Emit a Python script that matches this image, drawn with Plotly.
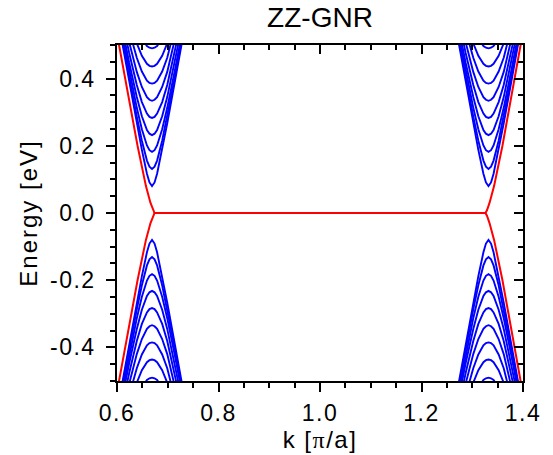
import plotly.graph_objects as go

# ---- data ----
valley_k = [0.669, 1.332]                     # k of subband minima (pi/a)
band_dk = [0.0, 0.005, 0.01, 0.02, 0.03, 0.045, 0.065]   # offsets from valley
# conduction subband energies (eV) at the offsets above
band_E = [
    [0.080, 0.091, 0.117, 0.188, 0.267, 0.391, 0.558],
    [0.131, 0.138, 0.156, 0.215, 0.287, 0.404, 0.568],
    [0.182, 0.187, 0.201, 0.249, 0.313, 0.424, 0.582],
    [0.232, 0.236, 0.247, 0.288, 0.345, 0.447, 0.599],
    [0.283, 0.286, 0.296, 0.330, 0.381, 0.476, 0.621],
    [0.334, 0.337, 0.345, 0.375, 0.420, 0.508, 0.646],
    [0.385, 0.387, 0.394, 0.421, 0.462, 0.543, 0.673],
    [0.436, 0.438, 0.444, 0.468, 0.505, 0.580, 0.704],
    [0.490, 0.492, 0.497, 0.519, 0.552, 0.622, 0.739],
]
# edge-state band (red), upper branch
red_k = [0.594, 0.604, 0.6405, 0.657, 0.666, 0.671, 0.674,
         1.326, 1.329, 1.334, 1.343, 1.3595, 1.396, 1.406]
red_E = [0.590, 0.500, 0.200, 0.080, 0.030, 0.008, 0.000,
         0.000, 0.008, 0.030, 0.080, 0.200, 0.500, 0.590]

x_ticks = [0.6, 0.8, 1.0, 1.2, 1.4]
x_labels = ["0.6", "0.8", "1.0", "1.2", "1.4"]
y_ticks = [-0.4, -0.2, 0.0, 0.2, 0.4]
y_labels = ["-0.4", "-0.2", "0.0", "0.2", "0.4"]

# ---- build traces ----
bx, by = [], []
for k0 in valley_k:
    for E in band_E:
        xs = [k0 - d for d in reversed(band_dk)] + [k0 + d for d in band_dk[1:]]
        ys = list(reversed(E)) + E[1:]
        for sign in (1, -1):
            bx += xs + [None]
            by += [sign * v for v in ys] + [None]

fig = go.Figure()
fig.add_trace(go.Scatter(x=bx, y=by, mode="lines",
                         line=dict(color="#0000FF", width=1.9), hoverinfo="skip",
                         showlegend=False))
for sign in (1, -1):
    fig.add_trace(go.Scatter(x=red_k, y=[sign * v for v in red_E], mode="lines",
                             line=dict(color="#FF0000", width=2), showlegend=False))
# dummy trace on mirrored axes
fig.add_trace(go.Scatter(x=[None], y=[None], xaxis="x2", yaxis="y2", showlegend=False))


def spaced(t, ls):
    return '<span style="letter-spacing:%spx">%s</span>' % (ls, t)


font = "Arial, Liberation Sans, sans-serif"
common = dict(showgrid=False, zeroline=False, showline=True, linecolor="black",
              linewidth=1.5)
tick_main = dict(ticklen=9, tickwidth=1.5, tickcolor="black")
fig.update_layout(
    width=553, height=455,
    margin=dict(l=117, r=20, t=45, b=73),
    paper_bgcolor="white", plot_bgcolor="white",
    font=dict(family=font, color="black"),
    title=dict(text="ZZ-GNR", x=0.5, xref="paper", xanchor="center",
               y=1 - 17 / 455, yref="container", yanchor="middle",
               font=dict(size=28, family=font, color="black")),
    xaxis=dict(range=[0.6, 1.4], tickvals=x_ticks,
               ticktext=[spaced(t, 1.5) for t in x_labels],
               ticks="outside", **tick_main,
               minor=dict(dtick=0.05, tick0=0.6, ticks="outside", ticklen=5,
                          tickwidth=1.5, tickcolor="black"),
               tickfont=dict(size=23), ticklabelstandoff=2,
               title=dict(text=spaced('k [<span style="font-family:Liberation Serif,Times New Roman,serif">π</span>/a]', 1.5),
                          font=dict(size=24), standoff=0),
               **common),
    yaxis=dict(range=[-0.5, 0.5], tickvals=y_ticks,
               ticktext=[spaced(t, 1.5) for t in y_labels],
               ticks="outside", **tick_main,
               minor=dict(dtick=0.05, tick0=0, ticks="outside", ticklen=5,
                          tickwidth=1.5, tickcolor="black"),
               tickfont=dict(size=23), ticklabelstandoff=6,
               title=dict(text=spaced("Energy [eV]", 2), font=dict(size=24), standoff=6),
               **common),
    xaxis2=dict(range=[0.6, 1.4], overlaying="x", side="top", tickvals=x_ticks,
                ticks="inside", **tick_main,
                minor=dict(dtick=0.05, tick0=0.6, ticks="inside", ticklen=5,
                           tickwidth=1.5, tickcolor="black"),
                showticklabels=False, **common),
    yaxis2=dict(range=[-0.5, 0.5], overlaying="y", side="right", tickvals=y_ticks,
                ticks="inside", **tick_main,
                minor=dict(dtick=0.05, tick0=0, ticks="inside", ticklen=5,
                           tickwidth=1.5, tickcolor="black"),
                showticklabels=False, **common),
)
fig.write_html("out.html")
